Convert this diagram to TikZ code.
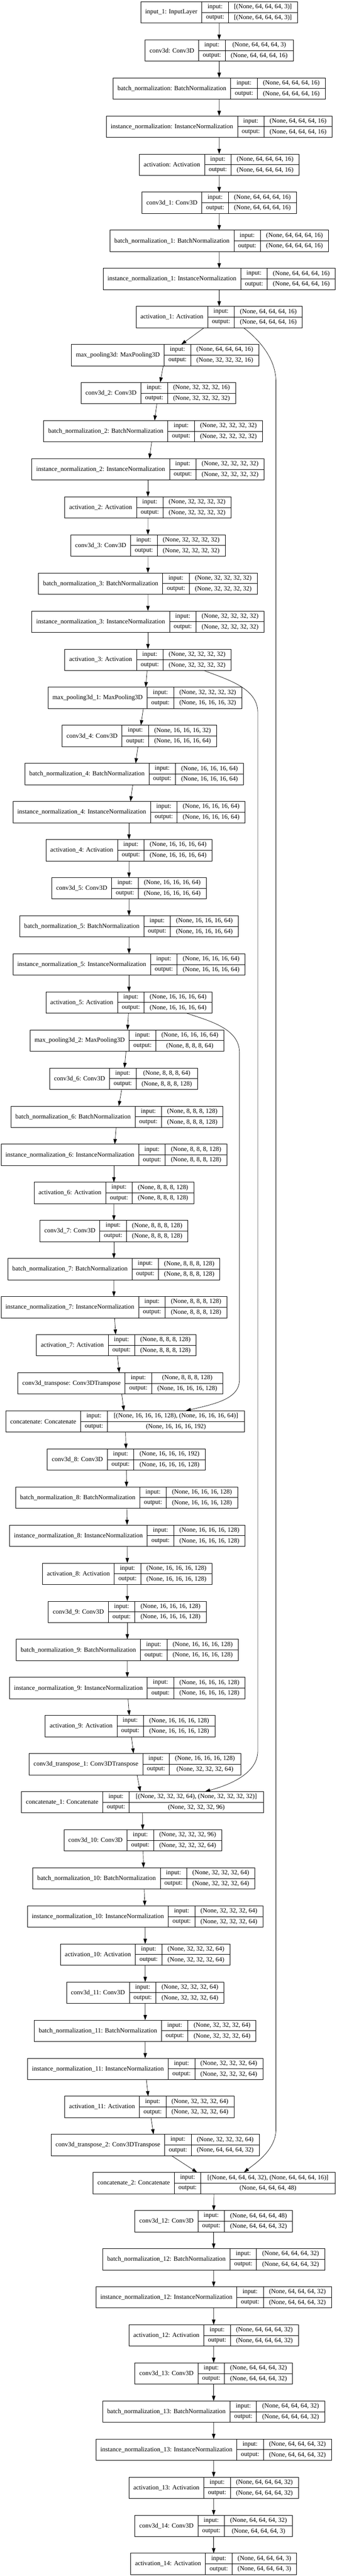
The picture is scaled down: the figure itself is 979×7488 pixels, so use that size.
\documentclass[tikz,border=0pt]{standalone}
\usepackage{fontspec}
\setmainfont{Liberation Serif}
\usetikzlibrary{arrows.meta,fit}

\font\measurefont="Liberation Serif" at 14pt
\newbox\measbox
\newdimen\wName \newdimen\wIn \newdimen\wOut
\newcommand\lfont{\fontsize{14pt}{16pt}\selectfont}
% one keras layer record: index, centre x (px), name, input shape, output shape
\newcommand\kerasLayer[5]{%
  \setbox\measbox=\hbox{\measurefont #3}\wName=\wd\measbox
  \setbox\measbox=\hbox{\measurefont #4}\wIn=\wd\measbox
  \setbox\measbox=\hbox{\measurefont #5}\wOut=\wd\measbox
  \ifdim\wOut>\wIn \wIn=\wOut \fi
  \pgfmathsetmacro\cellL{\the\wName+19.5pt}%
  \pgfmathsetmacro\cellS{1.03*\the\wIn+21pt}%
  \pgfmathsetmacro\leftX{#2-(\cellL+57.75+\cellS)/1.5}%
  \pgfmathsetmacro\topY{5+(#1-1)*110.7}%
  \node[namecell, minimum width=\cellL pt] (l#1-n) at (\leftX,\topY) {#3};
  \node[portcell] (l#1-i) at (l#1-n.north east) {input:};
  \node[portcell] (l#1-o) at (l#1-i.south west) {output:};
  \node[shapecell, minimum width=\cellS pt] (l#1-a) at (l#1-i.north east) {#4};
  \node[shapecell, minimum width=\cellS pt] (l#1-b) at (l#1-a.south west) {#5};
  \node[fit=(l#1-n)(l#1-b), inner sep=0pt] (l#1) {};
}

\begin{document}
\begin{tikzpicture}[
    x=0.75pt, y=-0.75pt,
    namecell/.style={draw, line width=1pt, inner sep=0pt, outer sep=0pt, anchor=north west, minimum height=46.5pt, font=\lfont},
    portcell/.style={namecell, minimum height=23.25pt, minimum width=57.75pt},
    shapecell/.style={namecell, minimum height=23.25pt},
    arrow/.style={-{Triangle[length=11pt,width=7.5pt]}, line width=0.75pt}
]
    \fill[white] (0,0) rectangle (979,7488);
    \useasboundingbox (0,0) rectangle (979,7488);

    \kerasLayer{1}{637}{input\_1: InputLayer}{[(None, 64, 64, 64, 3)]}{[(None, 64, 64, 64, 3)]}
    \kerasLayer{2}{637}{conv3d: Conv3D}{(None, 64, 64, 64, 3)}{(None, 64, 64, 64, 16)}
    \kerasLayer{3}{637}{batch\_normalization: BatchNormalization}{(None, 64, 64, 64, 16)}{(None, 64, 64, 64, 16)}
    \kerasLayer{4}{637}{instance\_normalization: InstanceNormalization}{(None, 64, 64, 64, 16)}{(None, 64, 64, 64, 16)}
    \kerasLayer{5}{637}{activation: Activation}{(None, 64, 64, 64, 16)}{(None, 64, 64, 64, 16)}
    \kerasLayer{6}{637}{conv3d\_1: Conv3D}{(None, 64, 64, 64, 16)}{(None, 64, 64, 64, 16)}
    \kerasLayer{7}{637}{batch\_normalization\_1: BatchNormalization}{(None, 64, 64, 64, 16)}{(None, 64, 64, 64, 16)}
    \kerasLayer{8}{637}{instance\_normalization\_1: InstanceNormalization}{(None, 64, 64, 64, 16)}{(None, 64, 64, 64, 16)}
    \kerasLayer{9}{637}{activation\_1: Activation}{(None, 64, 64, 64, 16)}{(None, 64, 64, 64, 16)}
    \kerasLayer{10}{480}{max\_pooling3d: MaxPooling3D}{(None, 64, 64, 64, 16)}{(None, 32, 32, 32, 16)}
    \kerasLayer{11}{460}{conv3d\_2: Conv3D}{(None, 32, 32, 32, 16)}{(None, 32, 32, 32, 32)}
    \kerasLayer{12}{445}{batch\_normalization\_2: BatchNormalization}{(None, 32, 32, 32, 32)}{(None, 32, 32, 32, 32)}
    \kerasLayer{13}{430}{instance\_normalization\_2: InstanceNormalization}{(None, 32, 32, 32, 32)}{(None, 32, 32, 32, 32)}
    \kerasLayer{14}{430}{activation\_2: Activation}{(None, 32, 32, 32, 32)}{(None, 32, 32, 32, 32)}
    \kerasLayer{15}{430}{conv3d\_3: Conv3D}{(None, 32, 32, 32, 32)}{(None, 32, 32, 32, 32)}
    \kerasLayer{16}{430}{batch\_normalization\_3: BatchNormalization}{(None, 32, 32, 32, 32)}{(None, 32, 32, 32, 32)}
    \kerasLayer{17}{430}{instance\_normalization\_3: InstanceNormalization}{(None, 32, 32, 32, 32)}{(None, 32, 32, 32, 32)}
    \kerasLayer{18}{430}{activation\_3: Activation}{(None, 32, 32, 32, 32)}{(None, 32, 32, 32, 32)}
    \kerasLayer{19}{421}{max\_pooling3d\_1: MaxPooling3D}{(None, 32, 32, 32, 32)}{(None, 16, 16, 16, 32)}
    \kerasLayer{20}{405}{conv3d\_4: Conv3D}{(None, 16, 16, 16, 32)}{(None, 16, 16, 16, 64)}
    \kerasLayer{21}{390}{batch\_normalization\_4: BatchNormalization}{(None, 16, 16, 16, 64)}{(None, 16, 16, 16, 64)}
    \kerasLayer{22}{375}{instance\_normalization\_4: InstanceNormalization}{(None, 16, 16, 16, 64)}{(None, 16, 16, 16, 64)}
    \kerasLayer{23}{375}{activation\_4: Activation}{(None, 16, 16, 16, 64)}{(None, 16, 16, 16, 64)}
    \kerasLayer{24}{375}{conv3d\_5: Conv3D}{(None, 16, 16, 16, 64)}{(None, 16, 16, 16, 64)}
    \kerasLayer{25}{375}{batch\_normalization\_5: BatchNormalization}{(None, 16, 16, 16, 64)}{(None, 16, 16, 16, 64)}
    \kerasLayer{26}{375}{instance\_normalization\_5: InstanceNormalization}{(None, 16, 16, 16, 64)}{(None, 16, 16, 16, 64)}
    \kerasLayer{27}{375}{activation\_5: Activation}{(None, 16, 16, 16, 64)}{(None, 16, 16, 16, 64)}
    \kerasLayer{28}{369}{max\_pooling3d\_2: MaxPooling3D}{(None, 16, 16, 16, 64)}{(None, 8, 8, 8, 64)}
    \kerasLayer{29}{359}{conv3d\_6: Conv3D}{(None, 8, 8, 8, 64)}{(None, 8, 8, 8, 128)}
    \kerasLayer{30}{340}{batch\_normalization\_6: BatchNormalization}{(None, 8, 8, 8, 128)}{(None, 8, 8, 8, 128)}
    \kerasLayer{31}{331}{instance\_normalization\_6: InstanceNormalization}{(None, 8, 8, 8, 128)}{(None, 8, 8, 8, 128)}
    \kerasLayer{32}{331}{activation\_6: Activation}{(None, 8, 8, 8, 128)}{(None, 8, 8, 8, 128)}
    \kerasLayer{33}{331}{conv3d\_7: Conv3D}{(None, 8, 8, 8, 128)}{(None, 8, 8, 8, 128)}
    \kerasLayer{34}{331}{batch\_normalization\_7: BatchNormalization}{(None, 8, 8, 8, 128)}{(None, 8, 8, 8, 128)}
    \kerasLayer{35}{331}{instance\_normalization\_7: InstanceNormalization}{(None, 8, 8, 8, 128)}{(None, 8, 8, 8, 128)}
    \kerasLayer{36}{338}{activation\_7: Activation}{(None, 8, 8, 8, 128)}{(None, 8, 8, 8, 128)}
    \kerasLayer{37}{350}{conv3d\_transpose: Conv3DTranspose}{(None, 8, 8, 8, 128)}{(None, 16, 16, 16, 128)}
    \kerasLayer{38}{364}{concatenate: Concatenate}{[(None, 16, 16, 16, 128), (None, 16, 16, 16, 64)]}{(None, 16, 16, 16, 192)}
    \kerasLayer{39}{367}{conv3d\_8: Conv3D}{(None, 16, 16, 16, 192)}{(None, 16, 16, 16, 128)}
    \kerasLayer{40}{368}{batch\_normalization\_8: BatchNormalization}{(None, 16, 16, 16, 128)}{(None, 16, 16, 16, 128)}
    \kerasLayer{41}{370}{instance\_normalization\_8: InstanceNormalization}{(None, 16, 16, 16, 128)}{(None, 16, 16, 16, 128)}
    \kerasLayer{42}{370}{activation\_8: Activation}{(None, 16, 16, 16, 128)}{(None, 16, 16, 16, 128)}
    \kerasLayer{43}{370}{conv3d\_9: Conv3D}{(None, 16, 16, 16, 128)}{(None, 16, 16, 16, 128)}
    \kerasLayer{44}{370}{batch\_normalization\_9: BatchNormalization}{(None, 16, 16, 16, 128)}{(None, 16, 16, 16, 128)}
    \kerasLayer{45}{370}{instance\_normalization\_9: InstanceNormalization}{(None, 16, 16, 16, 128)}{(None, 16, 16, 16, 128)}
    \kerasLayer{46}{378}{activation\_9: Activation}{(None, 16, 16, 16, 128)}{(None, 16, 16, 16, 128)}
    \kerasLayer{47}{392}{conv3d\_transpose\_1: Conv3DTranspose}{(None, 16, 16, 16, 128)}{(None, 32, 32, 32, 64)}
    \kerasLayer{48}{414}{concatenate\_1: Concatenate}{[(None, 32, 32, 32, 64), (None, 32, 32, 32, 32)]}{(None, 32, 32, 32, 96)}
    \kerasLayer{49}{415}{conv3d\_10: Conv3D}{(None, 32, 32, 32, 96)}{(None, 32, 32, 32, 64)}
    \kerasLayer{50}{418}{batch\_normalization\_10: BatchNormalization}{(None, 32, 32, 32, 64)}{(None, 32, 32, 32, 64)}
    \kerasLayer{51}{422}{instance\_normalization\_10: InstanceNormalization}{(None, 32, 32, 32, 64)}{(None, 32, 32, 32, 64)}
    \kerasLayer{52}{422}{activation\_10: Activation}{(None, 32, 32, 32, 64)}{(None, 32, 32, 32, 64)}
    \kerasLayer{53}{422}{conv3d\_11: Conv3D}{(None, 32, 32, 32, 64)}{(None, 32, 32, 32, 64)}
    \kerasLayer{54}{422}{batch\_normalization\_11: BatchNormalization}{(None, 32, 32, 32, 64)}{(None, 32, 32, 32, 64)}
    \kerasLayer{55}{422}{instance\_normalization\_11: InstanceNormalization}{(None, 32, 32, 32, 64)}{(None, 32, 32, 32, 64)}
    \kerasLayer{56}{434}{activation\_11: Activation}{(None, 32, 32, 32, 64)}{(None, 32, 32, 32, 64)}
    \kerasLayer{57}{451}{conv3d\_transpose\_2: Conv3DTranspose}{(None, 32, 32, 32, 64)}{(None, 64, 64, 64, 32)}
    \kerasLayer{58}{622}{concatenate\_2: Concatenate}{[(None, 64, 64, 64, 32), (None, 64, 64, 64, 16)]}{(None, 64, 64, 64, 48)}
    \kerasLayer{59}{621}{conv3d\_12: Conv3D}{(None, 64, 64, 64, 48)}{(None, 64, 64, 64, 32)}
    \kerasLayer{60}{621}{batch\_normalization\_12: BatchNormalization}{(None, 64, 64, 64, 32)}{(None, 64, 64, 64, 32)}
    \kerasLayer{61}{621}{instance\_normalization\_12: InstanceNormalization}{(None, 64, 64, 64, 32)}{(None, 64, 64, 64, 32)}
    \kerasLayer{62}{621}{activation\_12: Activation}{(None, 64, 64, 64, 32)}{(None, 64, 64, 64, 32)}
    \kerasLayer{63}{621}{conv3d\_13: Conv3D}{(None, 64, 64, 64, 32)}{(None, 64, 64, 64, 32)}
    \kerasLayer{64}{621}{batch\_normalization\_13: BatchNormalization}{(None, 64, 64, 64, 32)}{(None, 64, 64, 64, 32)}
    \kerasLayer{65}{621}{instance\_normalization\_13: InstanceNormalization}{(None, 64, 64, 64, 32)}{(None, 64, 64, 64, 32)}
    \kerasLayer{66}{621}{activation\_13: Activation}{(None, 64, 64, 64, 32)}{(None, 64, 64, 64, 32)}
    \kerasLayer{67}{621}{conv3d\_14: Conv3D}{(None, 64, 64, 64, 32)}{(None, 64, 64, 64, 3)}
    \kerasLayer{68}{621}{activation\_14: Activation}{(None, 64, 64, 64, 3)}{(None, 64, 64, 64, 3)}

    \foreach \i in {1,...,8,10,11,...,56,58,59,...,67}{
        \pgfmathtruncatemacro\j{\i+1}
        \draw[arrow] (l\i) -- (l\j);
    }
    \draw[arrow] (l9.south -| 593,0) -- (l10.north -| 527,0);
    \draw[arrow] (l57.south -| 499,0) -- (l58.north -| 573,0);

    % skip connections
    \coordinate (s1top) at (802,1110);
    \coordinate (s1bot) at (802,6190);
    \coordinate (s2top) at (749,2070);
    \coordinate (s2bot) at (749,5090);
    \coordinate (s3top) at (696,3060);
    \coordinate (s3bot) at (696,4010);
    \draw[arrow] (l9.south -| 708,0) .. controls (750,985) and (802,1040) .. (s1top) -- (s1bot)
        .. controls (802,6250) and (740,6290) .. (l58.north -| 709,0);
    \draw[arrow] (l18.south -| 593,0) .. controls (660,1975) and (749,2000) .. (s2top) -- (s2bot)
        .. controls (749,5150) and (680,5185) .. (l48.north -| 596,0);
    \draw[arrow] (l27.south -| 543,0) .. controls (610,2968) and (696,2990) .. (s3top) -- (s3bot)
        .. controls (696,4065) and (630,4080) .. (l38.north -| 540,0);
\end{tikzpicture}
\end{document}
